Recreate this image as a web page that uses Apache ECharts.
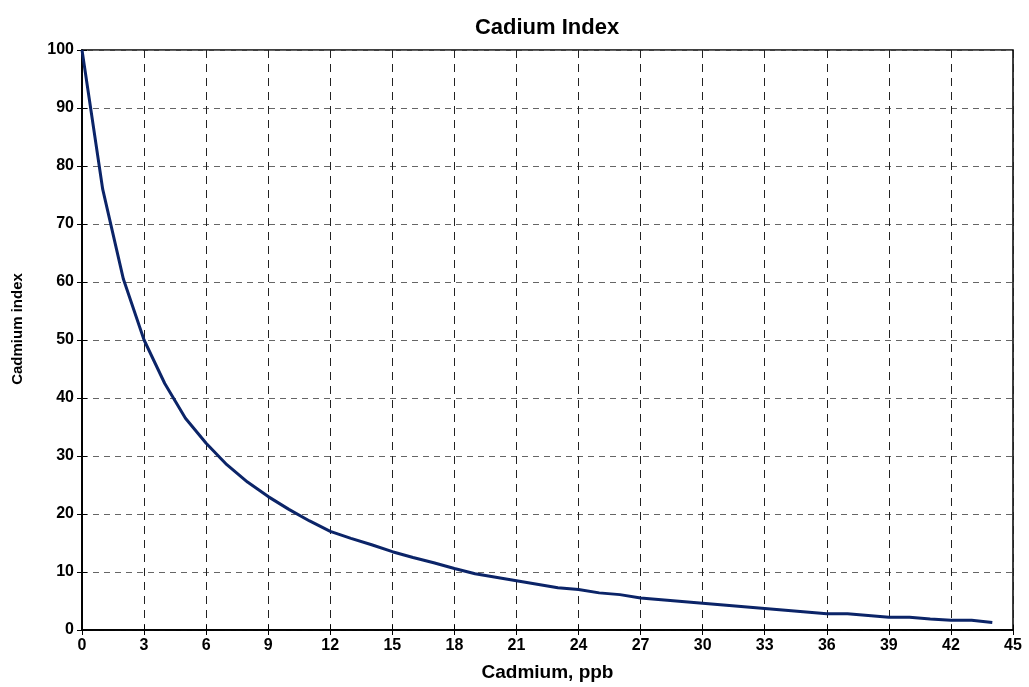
<!DOCTYPE html>
<html>
<head>
<meta charset="utf-8">
<script src="https://cdn.jsdelivr.net/npm/echarts@6/dist/echarts.min.js"></script>
<style>html,body{margin:0;padding:0;background:#fff;}#c{width:1029px;height:687px;}</style>
</head>
<body>
<div id="c"></div>
<script>
const cadmiumPpb = [0,1,2,3,4,5,6,7,8,9,10,11,12,13,14,15,16,17,18,19,20,21,22,23,24,25,26,27,28,29,30,31,32,33,34,35,36,37,38,39,40,41,42,43,44];
const cadmiumIndex = [100,76,60.5,50,42.5,36.5,32.2,28.5,25.5,23,20.8,18.8,17,15.8,14.7,13.5,12.5,11.6,10.6,9.7,9.1,8.5,7.9,7.3,7.0,6.4,6.1,5.5,5.2,4.9,4.6,4.3,4.0,3.7,3.4,3.1,2.8,2.8,2.5,2.2,2.2,1.9,1.7,1.7,1.3];
const xTicks = {min:0, max:45, step:3};
const yTicks = {min:0, max:100, step:10};

const font = 'Liberation Sans, Arial, sans-serif';
const chart = echarts.init(document.getElementById('c'), null, {renderer:'canvas'});
const tick = {show:true, inside:true, length:5, lineStyle:{color:'#000', width:1}};
chart.setOption({
  animation:false,
  backgroundColor:'#fff',
  title:{text:'Cadium Index', left:542, top:12, textAlign:'center',
    textStyle:{fontFamily:font, fontWeight:'bold', fontSize:22, color:'#000'}},
  grid:{left:82, right:16, top:50, bottom:57, show:true, borderColor:'#000', borderWidth:1.5, backgroundColor:'#fff'},
  xAxis:[{type:'value', min:xTicks.min, max:xTicks.max, interval:xTicks.step,
    name:'Cadmium, ppb', nameLocation:'middle', nameGap:33,
    nameTextStyle:{fontFamily:font, fontWeight:'bold', fontSize:19, color:'#000'},
    axisLine:{lineStyle:{color:'#000', width:1.5}},
    axisTick:tick,
    axisLabel:{fontFamily:font, fontWeight:'bold', fontSize:16, color:'#000', margin:8},
    splitLine:{show:true, lineStyle:{type:[8,6], color:'#222', width:1}}},
   {type:'value', position:'top', min:xTicks.min, max:xTicks.max, interval:xTicks.step,
    axisLine:{show:true, lineStyle:{color:'#000', width:1.5}}, axisTick:tick,
    axisLabel:{show:false}, splitLine:{show:false}}],
  yAxis:[{type:'value', min:yTicks.min, max:yTicks.max, interval:yTicks.step,
    name:'Cadmium index', nameLocation:'middle', nameGap:57, nameRotate:90,
    nameTextStyle:{fontFamily:font, fontWeight:'bold', fontSize:15, color:'#000', padding:[0,0,0,22]},
    axisLine:{show:true, lineStyle:{color:'#000', width:1.5}},
    axisTick:tick,
    axisLabel:{fontFamily:font, fontWeight:'bold', fontSize:16, color:'#000', margin:8},
    splitLine:{show:true, lineStyle:{type:[6,5], color:'#666', width:1}}},
   {type:'value', position:'right', min:yTicks.min, max:yTicks.max, interval:yTicks.step,
    axisLine:{show:true, lineStyle:{color:'#000', width:1.5}}, axisTick:tick,
    axisLabel:{show:false}, splitLine:{show:false}}],
  series:[{type:'line', data:cadmiumPpb.map((x,i)=>[x,cadmiumIndex[i]]), showSymbol:false,
    lineStyle:{color:'#0b2468', width:3}, z:5}]
});
</script>
</body>
</html>
